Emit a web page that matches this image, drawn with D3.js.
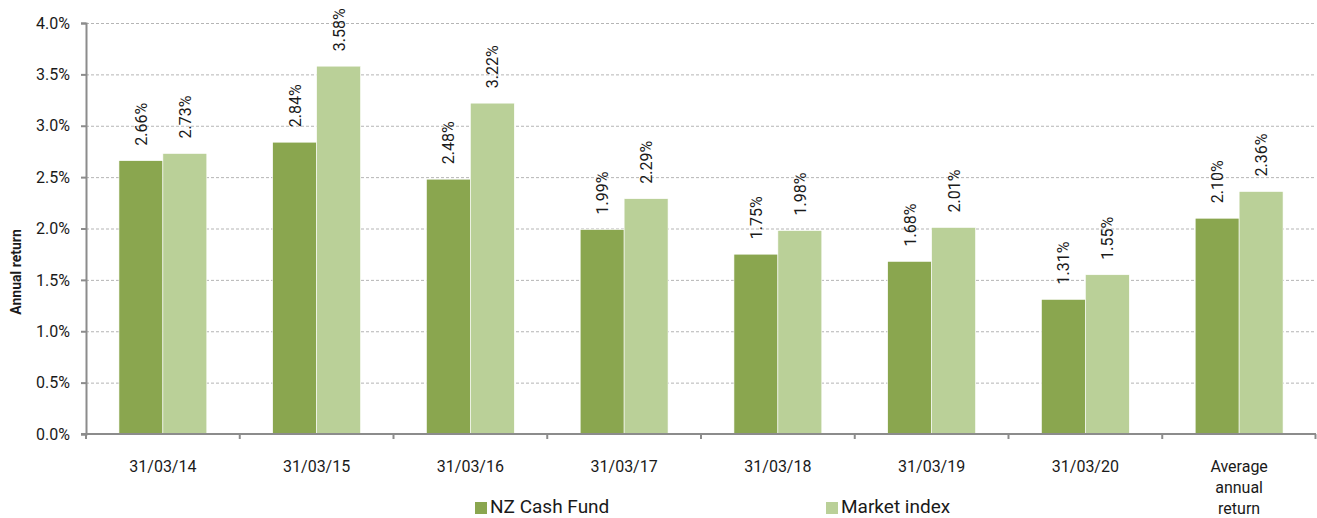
<!DOCTYPE html>
<html lang="en">
<head>
<meta charset="UTF-8">
<title>Annual return</title>
<style>
  body { margin: 0; background: #fff; }
  text { font-family: Roboto, "Noto Sans", sans-serif; fill: #1a1a1a; }
</style>
</head>
<body>
<svg id="chart"></svg>
<script src="https://d3js.org/d3.v7.min.js"></script>
<script>
  // data
  const categories = ['31/03/14', '31/03/15', '31/03/16', '31/03/17', '31/03/18', '31/03/19', '31/03/20', 'Average annual return'];
  const fundValues = [2.66, 2.84, 2.48, 1.99, 1.75, 1.68, 1.31, 2.10];
  const indexValues = [2.73, 3.58, 3.22, 2.29, 1.98, 2.01, 1.55, 2.36];
  const seriesNames = ['NZ Cash Fund', 'Market index'];
  const yTicks = [0, 0.5, 1, 1.5, 2, 2.5, 3, 3.5, 4];

  const colors = ['#8aa64f', '#bad098'];
  const width = 1317, height = 518;
  const margin = { top: 23, right: 1, bottom: 84, left: 86 };

  const svg = d3.select('#chart').attr('width', width).attr('height', height);

  const x = d3.scaleBand()
    .domain(categories)
    .range([margin.left, width - margin.right]);

  // two bars in the middle of each band
  const inner = d3.scaleBand()
    .domain(seriesNames)
    .range([0, x.bandwidth()])
    .paddingInner(0)
    .paddingOuter(0.75);

  const y = d3.scaleLinear()
    .domain([0, 4])
    .range([434, margin.top]);

  // grid lines
  svg.append('g')
    .selectAll('line')
    .data(yTicks.filter(d => d > 0))
    .join('line')
    .attr('x1', margin.left)
    .attr('x2', width - margin.right)
    .attr('y1', d => y(d) + 0.5)
    .attr('y2', d => y(d) + 0.5)
    .attr('stroke', '#b5b5b5')
    .attr('stroke-dasharray', '3,2');

  // bars
  const rows = categories.map((c, i) => ({ c, vals: [fundValues[i], indexValues[i]] }));
  const groups = svg.append('g')
    .selectAll('g')
    .data(rows)
    .join('g')
    .attr('transform', d => `translate(${x(d.c)},0)`);

  groups.selectAll('rect')
    .data(d => d.vals.map((v, k) => ({ v, k })))
    .join('rect')
    .attr('x', d => inner(seriesNames[d.k]))
    .attr('width', inner.bandwidth())
    .attr('y', d => y(d.v))
    .attr('height', d => y(0) - y(d.v))
    .attr('fill', d => colors[d.k])
    .attr('stroke', '#fff')
    .attr('stroke-width', 0.6);

  // value labels, rotated
  groups.selectAll('text.val')
    .data(d => d.vals.map((v, k) => ({ v, k })))
    .join('text')
    .attr('class', 'val')
    .attr('transform', d => `translate(${inner(seriesNames[d.k]) + inner.bandwidth() / 2 + 6},${y(d.v) - 15}) rotate(-90)`)
    .attr('font-size', 16)
    .text(d => d.v.toFixed(2) + '%');

  // y axis
  const yAxis = d3.axisLeft(y)
    .tickValues(yTicks)
    .tickFormat(d => d.toFixed(1) + '%')
    .tickSize(5)
    .tickPadding(11);

  const ya = svg.append('g')
    .attr('transform', `translate(${margin.left},0)`)
    .call(yAxis);
  ya.select('.domain').attr('stroke', '#8c8c8c').attr('stroke-width', 2);
  ya.selectAll('.tick line').attr('stroke', '#8c8c8c').attr('stroke-width', 2);
  ya.selectAll('.tick text').attr('font-size', 16).attr('fill', '#1a1a1a')
    .attr('font-family', 'Roboto, sans-serif');

  // x axis baseline and boundary ticks
  const xa = svg.append('g');
  xa.append('line')
    .attr('x1', margin.left - 5)
    .attr('x2', width - margin.right)
    .attr('y1', y(0))
    .attr('y2', y(0))
    .attr('stroke', '#8c8c8c')
    .attr('stroke-width', 2);
  const bounds = categories.map(c => x(c)).concat([x.range()[1] - 0.5]);
  xa.selectAll('line.tk')
    .data(bounds)
    .join('line')
    .attr('class', 'tk')
    .attr('x1', d => d)
    .attr('x2', d => d)
    .attr('y1', y(0))
    .attr('y2', y(0) + 5)
    .attr('stroke', '#8c8c8c')
    .attr('stroke-width', 2);

  // category labels
  const catLabels = xa.selectAll('text.cat')
    .data(categories)
    .join('text')
    .attr('class', 'cat')
    .attr('text-anchor', 'middle')
    .attr('font-size', 16)
    .attr('x', d => x(d) + x.bandwidth() / 2)
    .attr('y', 472);
  catLabels.each(function (d) {
    const parts = d === 'Average annual return' ? ['Average', 'annual', 'return'] : [d];
    d3.select(this).selectAll('tspan')
      .data(parts)
      .join('tspan')
      .attr('x', x(d) + x.bandwidth() / 2)
      .attr('dy', (p, i) => i === 0 ? 0 : 21)
      .text(p => p);
  });

  // y axis title
  svg.append('text')
    .attr('transform', 'translate(21,272) rotate(-90)')
    .attr('text-anchor', 'middle')
    .attr('font-size', 14)
    .attr('font-weight', 'bold')
    .text('Annual return');

  // legend
  const legendX = [475, 826];
  const legend = svg.append('g')
    .selectAll('g')
    .data(seriesNames)
    .join('g')
    .attr('transform', (d, i) => `translate(${legendX[i]},513)`);
  legend.append('rect')
    .attr('width', 12)
    .attr('height', 12)
    .attr('y', -11)
    .attr('fill', (d, i) => colors[i]);
  legend.append('text')
    .attr('x', 15)
    .attr('font-size', 19)
    .text(d => d);
</script>
</body>
</html>
